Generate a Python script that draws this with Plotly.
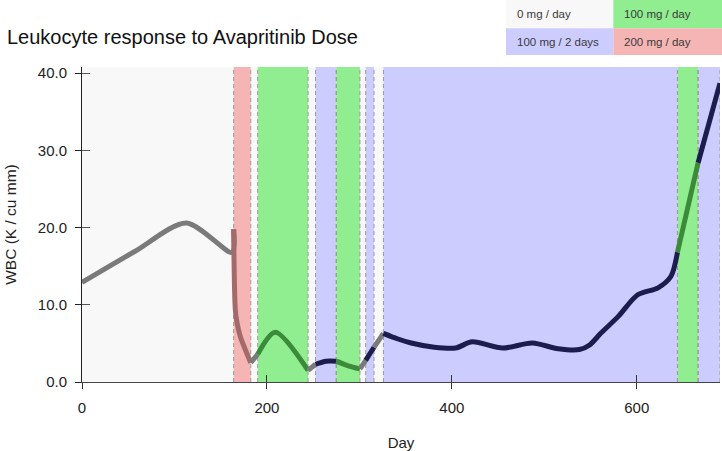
import plotly.graph_objects as go

# ---- data ----
days = [0, 57, 113, 162.5, 164, 165.8, 167.6, 171.2, 182.5, 190, 209, 244.5,
        252.6, 264, 275, 288, 300.6, 306.8, 315.8, 326, 341, 356, 381, 404,
        422, 455, 487, 515, 538, 549, 561, 580, 601, 623, 637, 644, 666.3, 690]
wbc = [12.9, 16.9, 20.6, 16.8, 19.8, 9.4, 7.7, 5.9, 2.5, 3.6, 6.45, 1.5,
       2.3, 2.7, 2.7, 2.1, 1.7, 2.8, 4.5, 6.3, 5.6, 5.05, 4.5, 4.4,
       5.2, 4.4, 5.05, 4.3, 4.2, 4.8, 6.3, 8.5, 11.3, 12.2, 13.7, 16.8, 28.4, 38.7]

period_start = [0, 164, 182.5, 190, 244.5, 252.6, 275, 300.6, 306.8, 315.8, 326, 644, 666.3]
period_end = [164, 182.5, 190, 244.5, 252.6, 275, 300.6, 306.8, 315.8, 326, 644, 666.3, 690]
period_dose = [0, 3, 0, 1, 0, 2, 1, 0, 2, 0, 2, 1, 2]

dose_labels = ["0 mg / day", "100 mg / day", "100 mg / 2 days", "200 mg / day"]
x_ticks = [0, 200, 400, 600]
y_ticks = [0, 10, 20, 30, 40]

# ---- styles ----
band_colors = ["#f8f8f8", "#90ee90", "#ccccff", "#f5b5b5"]
line_colors = ["#7a7a7a", "#3b8b3b", "#1c1c4e", "#a36a6c"]
X_RANGE = [0, 690]
Y_RANGE = [0, 40.8]
W, H = 722, 451
ML, MR, MT, MB = 82, 2, 67, 69
PW, PH = W - ML - MR, H - MT - MB

def px_x(px):
    return (px - ML) / PW

def px_y(py):
    return (H - MB - py) / PH

fig = go.Figure()

# line segments coloured by dose period
for s, e, d in zip(period_start, period_end, period_dose):
    xs = [x for x in days if s <= x <= e]
    ys = [y for x, y in zip(days, wbc) if s <= x <= e]
    fig.add_trace(go.Scatter(
        x=xs, y=ys, mode="lines",
        line=dict(color=line_colors[d], width=5, shape="spline", smoothing=0.8),
        showlegend=False, hoverinfo="skip"))

# empty trace for overlay axes (inside tick marks)
fig.add_trace(go.Scatter(x=[], y=[], xaxis="x2", yaxis="y2", showlegend=False))

shapes = []
for s, e, d in zip(period_start, period_end, period_dose):
    if d == 0:
        continue
    shapes.append(dict(type="rect", xref="x", yref="paper", x0=s, x1=e, y0=0, y1=1,
                       fillcolor=band_colors[d], line=dict(width=0), layer="below"))
for s, e, d in zip(period_start, period_end, period_dose):
    if d == 0:
        continue
    for xv in (s, e):
        shapes.append(dict(type="line", xref="x", yref="paper", x0=xv, x1=xv, y0=0, y1=1,
                           line=dict(color="#9a9a9a", width=1, dash="4px,3px"), layer="below"))

# legend table (top right)
cells = [(0, 506, 613.3, 0, 28.3), (1, 613.3, 723, 0, 28.3),
         (2, 506, 613.3, 28.3, 55), (3, 613.3, 723, 28.3, 55)]
annotations = []
for d, x0, x1, y0, y1 in cells:
    shapes.append(dict(type="rect", xref="paper", yref="paper",
                       x0=px_x(x0), x1=px_x(x1), y0=px_y(y1), y1=px_y(y0),
                       fillcolor=band_colors[d], line=dict(width=0), layer="above"))
    annotations.append(dict(text=dose_labels[d], xref="paper", yref="paper",
                            x=px_x(x0 + 9), y=px_y((y0 + y1) / 2),
                            xanchor="left", yanchor="middle", showarrow=False,
                            font=dict(size=11.5, color="#3a3a3a")))

FONT = "Liberation Sans, Arial, Helvetica, sans-serif"

fig.update_layout(
    width=W, height=H,
    margin=dict(l=ML, r=MR, t=MT, b=MB, autoexpand=False),
    paper_bgcolor="white", plot_bgcolor="#f8f8f8",
    font=dict(family=FONT, size=14, color="#222"),
    title=dict(text="Leukocyte response to Avapritinib Dose", x=7 / W, xanchor="left",
               y=1 - 37 / H, yanchor="middle", font=dict(size=20, color="#111")),
    shapes=shapes, annotations=annotations,
    xaxis=dict(range=X_RANGE, tickvals=x_ticks, ticktext=[str(v) for v in x_ticks],
               ticks="outside", ticklen=6, tickcolor="#333", showgrid=False, zeroline=False,
               showline=True, linecolor="#444", linewidth=1, ticklabelstandoff=6,
               tickfont=dict(size=15), automargin=False,
               title=dict(text="Day", standoff=22, font=dict(size=15))),
    yaxis=dict(range=Y_RANGE, tickvals=y_ticks, ticktext=[f"{v:.1f}" for v in y_ticks],
               ticks="outside", ticklen=6, tickcolor="#222", showgrid=False, zeroline=False,
               showline=True, linecolor="#222", linewidth=1, ticklabelstandoff=5,
               tickfont=dict(size=15), automargin=False,
               title=dict(text="WBC (K / cu mm)", standoff=17, font=dict(size=15.5))),
    xaxis2=dict(range=X_RANGE, overlaying="x", anchor="y", side="bottom", tickvals=x_ticks,
                ticks="inside", ticklen=7, tickcolor="#333", showticklabels=False,
                showgrid=False, zeroline=False, showline=False, automargin=False),
    yaxis2=dict(range=Y_RANGE, overlaying="y", anchor="x", side="left", tickvals=y_ticks,
                ticks="inside", ticklen=8, tickcolor="#555", showticklabels=False,
                showgrid=False, zeroline=False, showline=False, automargin=False),
)

fig.write_html("out.html", config={"displayModeBar": False},
               post_script="document.body.style.margin='0';document.body.style.overflow='hidden';")
